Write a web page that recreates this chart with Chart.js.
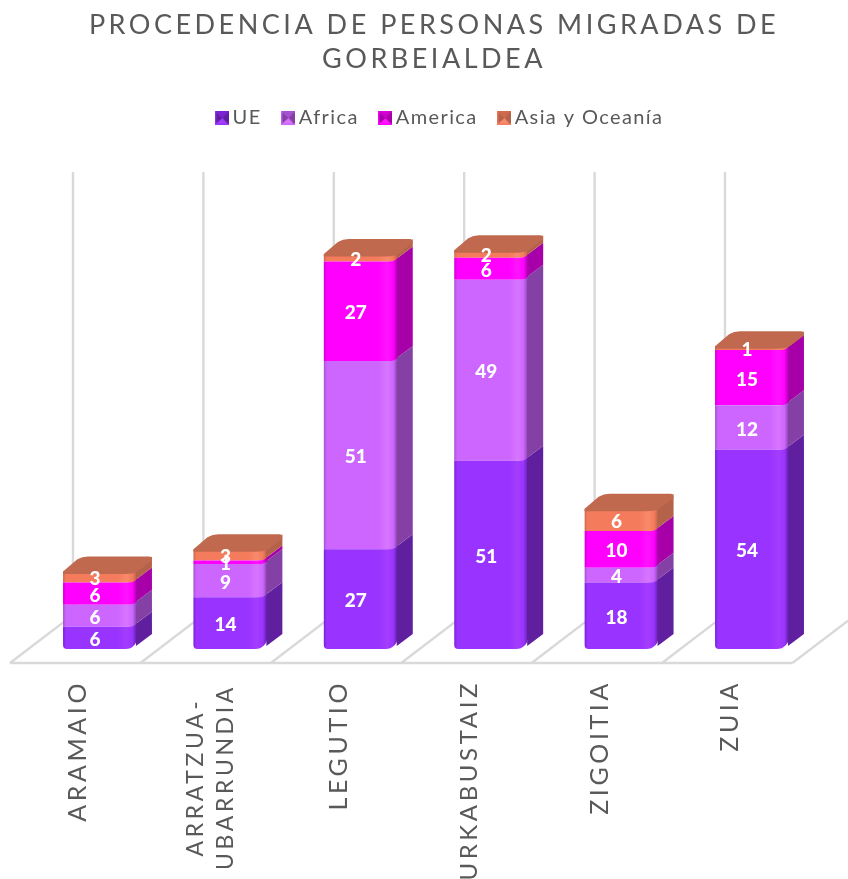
<!DOCTYPE html>
<html>
<head>
<meta charset="utf-8">
<style>html,body{margin:0;padding:0;background:#fff;overflow:hidden}canvas{display:block}</style>
<script src="https://cdn.jsdelivr.net/npm/chart.js@4/dist/chart.umd.min.js"></script>
</head>
<body>
<canvas id="c" width="848" height="879"></canvas>
<script>
const categories = [["ARAMAIO"], ["ARRATZUA-", "UBARRUNDIA"], ["LEGUTIO"], ["URKABUSTAIZ"], ["ZIGOITIA"], ["ZUIA"]];
const seriesNames = ["UE", "Africa", "America", "Asia y Oceanía"];
const ue = [6, 14, 27, 51, 18, 54];
const africa = [6, 9, 51, 49, 4, 12];
const america = [6, 1, 27, 6, 10, 15];
const asia = [3, 3, 2, 2, 6, 1];
const titleLines = ["PROCEDENCIA DE PERSONAS MIGRADAS DE", "GORBEIALDEA"];

const FONT = "Lato";
const GREY = "#595959";
const PAL = [
  {front:"#9933FF", light:"#A43DFF", dark:"#7A22D4", side:"#5F1F9F"},
  {front:"#CC66FF", light:"#D875FF", dark:"#A552CE", side:"#8540A5"},
  {front:"#FF00FF", light:"#FF14FF", dark:"#D000D0", side:"#A800A8"},
  {front:"#F47B5C", light:"#F98A6C", dark:"#CF6A4E", side:"#B5624A"}
];
const TOP_FACE = "#C0694F";
const DX = 15, DY = 14;            // bar depth
const FLOOR_DX = 63, FLOOR_FRONT = 14, FLOOR_BACK = 34; // floor geometry

function frontGradient(ctx, x, w, p) {
  const g = ctx.createLinearGradient(x - w / 2, 0, x + w / 2, 0);
  g.addColorStop(0, p.dark);
  g.addColorStop(0.04, p.front);
  g.addColorStop(0.74, p.front);
  g.addColorStop(0.86, p.light);
  g.addColorStop(0.94, p.front);
  g.addColorStop(1, p.side);
  return g;
}
function legendIcon(p) {
  const c = document.createElement("canvas");
  c.width = 14; c.height = 14;
  const k = c.getContext("2d");
  const tri = (col, a, b, m) => { k.fillStyle = col; k.beginPath(); k.moveTo(a[0], a[1]); k.lineTo(b[0], b[1]); k.lineTo(m[0], m[1]); k.closePath(); k.fill(); };
  k.fillStyle = p.front; k.fillRect(0, 0, 14, 14);
  const m = [8, 7];
  tri(p.dark, [0, 0], [14, 0], m);
  tri(p.side, [0, 0], [0, 14], m);
  tri(p.light, [0, 14], [14, 14], m);
  tri(p.side, [14, 0], [14, 14], m);
  k.fillStyle = p.dark; k.fillRect(0, 0, 14, 1.5);
  k.fillStyle = p.front; k.fillRect(0, 12.5, 14, 1.5); k.fillRect(0, 0, 1.5, 14);
  return c;
}
const icons = PAL.map(legendIcon);

function spaced(obj, name, spacing, dx) {
  const orig = obj[name];
  obj[name] = function () {
    const ctx = this.ctx;
    ctx.save();
    ctx.letterSpacing = spacing;
    if (dx) ctx.translate(dx, 0);
    const r = orig.apply(this, arguments);
    ctx.restore();
    return r;
  };
}

const bars3d = {
  id: "bars3d",
  beforeLayout(chart) {
    if (chart.$wrapped) return;
    chart.$wrapped = true;
    const lg = chart.legend;
    const fit = lg.fit;
    lg.fit = function () {
      const ctx = this.ctx;
      ctx.save(); ctx.letterSpacing = "1.4px";
      fit.apply(this, arguments);
      ctx.restore();
      this.height = 123; this.bottom = this.top + 123;
    };
    spaced(lg, "draw", "1.4px", 16);
    spaced(chart.titleBlock, "draw", "3.5px", 8);
  },
  beforeDraw(chart) {
    if (chart.$wrappedX) return;
    chart.$wrappedX = true;
    const sx = chart.scales.x;
    sx.getLabelItems().forEach(it => {
      if (Array.isArray(it.label) && it.label.length > 1) {
        it.options.translation[0] -= 13;
        it.options.translation[1] = 777;
        it.options.textAlign = "center";
      }
    });
    spaced(sx, "drawLabels", "3.6px", 0);
  },
  beforeDatasetsDraw(chart) {
    const {ctx, scales: {x, y}} = chart;
    const band = x.getPixelForTick(1) - x.getPixelForTick(0);
    const y0 = y.getPixelForValue(0), yMax = y.getPixelForValue(y.max);
    const floorFront = y0 + FLOOR_FRONT, floorBack = y0 - FLOOR_BACK, wallTop = yMax - FLOOR_BACK;
    const start = x.getPixelForTick(0) - band / 2 - 24.8;
    ctx.save();
    ctx.strokeStyle = "#D9D9D9";
    ctx.lineWidth = 2.4;
    ctx.beginPath();
    ctx.moveTo(start, floorFront);
    ctx.lineTo(start + band * categories.length, floorFront);
    for (let i = 0; i <= categories.length; i++) {
      const px = start + band * i;
      ctx.moveTo(px, floorFront);
      ctx.lineTo(px + FLOOR_DX, floorBack);
      if (i < categories.length) ctx.lineTo(px + FLOOR_DX, wallTop);
    }
    ctx.stroke();
    ctx.restore();
  },
  afterDatasetsDraw(chart) {
    const {ctx} = chart;
    const metas = chart.data.datasets.map((d, i) => chart.getDatasetMeta(i));
    ctx.save();
    categories.forEach((c, i) => {
      metas.forEach((m, s) => {
        const b = m.data[i], p = PAL[s];
        const w = b.width, xr = b.x + w / 2;
        const yb = b.base, yt = b.y;
        // side face
        ctx.fillStyle = p.side;
        ctx.beginPath();
        ctx.moveTo(xr - 1, yb - 3);
        ctx.lineTo(xr + DX, yb - DY - 1);
        ctx.lineTo(xr + DX, yt - DY - 1);
        ctx.lineTo(xr - 1, yt - 3);
        ctx.closePath();
        ctx.fill();
        // curved lower boundary of the segment above
        if (s < metas.length - 1) {
          ctx.fillStyle = frontGradient(ctx, b.x, w, p);
          ctx.beginPath();
          ctx.moveTo(xr - 12, yt + 0.5);
          ctx.quadraticCurveTo(xr - 4, yt + 0.5, xr, yt - 3);
          ctx.lineTo(xr, yt + 1);
          ctx.closePath();
          ctx.fill();
        }
      });
      // top face
      const b = metas[metas.length - 1].data[i];
      const w = b.width, xr = b.x + w / 2, xl = b.x - w / 2, yt = b.y;
      ctx.fillStyle = TOP_FACE;
      ctx.beginPath();
      ctx.moveTo(xl, yt + 2.5);
      ctx.lineTo(xl, yt);
      ctx.lineTo(xl + DX - 1, yt - DY + 2);
      ctx.quadraticCurveTo(xl + DX + 4, yt - DY - 1, xl + DX + 10, yt - DY - 1);
      ctx.lineTo(xr + DX - 3, yt - DY - 1);
      ctx.quadraticCurveTo(xr + DX, yt - DY - 1, xr + DX, yt - DY + 3);
      ctx.lineTo(xr + 2, yt - 1);
      ctx.quadraticCurveTo(xr - 3, yt + 2.5, xr - 12, yt + 2.5);
      ctx.closePath();
      ctx.fill();
    });
    // value labels
    ctx.fillStyle = "#FFFFFF";
    ctx.font = "900 19px " + FONT;
    ctx.textAlign = "center";
    ctx.textBaseline = "middle";
    metas.forEach((m, s) => {
      m.data.forEach((b, i) => {
        const v = chart.data.datasets[s].data[i];
        ctx.fillText(String(v), b.x - 5, (b.y + b.base) / 2 + 2);
      });
    });
    ctx.restore();
  }
};

const seriesValues = [ue, africa, america, asia];
const datasets = seriesNames.map((name, s) => ({
  label: name,
  data: seriesValues[s],
  stack: "a",
  borderWidth: 0,
  borderSkipped: false,
  borderRadius: s === 0 ? {bottomLeft: 4, bottomRight: 12, topLeft: 0, topRight: 0} : 0,
  backgroundColor(ctx) {
    const chart = ctx.chart;
    if (ctx.type !== "data" || !chart.scales || !chart.scales.x) return PAL[s].front;
    const x = chart.scales.x.getPixelForTick(ctx.dataIndex);
    const w = (chart.scales.x.getPixelForTick(1) - chart.scales.x.getPixelForTick(0)) * 0.567;
    return frontGradient(chart.ctx, x, w, PAL[s]);
  }
}));

new Chart(document.getElementById("c"), {
  type: "bar",
  data: {labels: categories, datasets},
  plugins: [bars3d],
  options: {
    responsive: false,
    animation: false,
    events: [],
    barPercentage: 0.567,
    categoryPercentage: 1,
    layout: {padding: {left: 34.8, right: 30.8, top: 0, bottom: 0}},
    plugins: {
      tooltip: {enabled: false},
      title: {
        display: true,
        text: titleLines,
        color: GREY,
        font: {family: FONT, size: 27, weight: "normal", lineHeight: 1.26},
        padding: {top: 8, bottom: 7}
      },
      legend: {
        display: true,
        position: "top",
        labels: {
          font: {family: FONT, size: 20},
          color: GREY,
          usePointStyle: true,
          boxWidth: 2,
          padding: 25,
          generateLabels() {
            return seriesNames.map((n, s) => ({text: n, fontColor: GREY, pointStyle: icons[s], datasetIndex: s, lineWidth: 0}));
          }
        }
      }
    },
    scales: {
      x: {
        stacked: true,
        border: {display: false},
        grid: {display: false, drawTicks: false},
        afterFit(s) { s.height = 230; },
        ticks: {
          color: GREY,
          font(c) {
            if (c.index === 1) return {family: FONT, size: 23, lineHeight: 1.3};
            if (c.index === 3) return {family: FONT, size: 24, lineHeight: 1.2};
            return {family: FONT, size: 25, lineHeight: 1.2};
          },
          minRotation: 90,
          maxRotation: 90,
          autoSkip: false,
          padding: 31,
          labelOffset: -22
        }
      },
      y: {
        stacked: true,
        display: false,
        min: 0,
        max: 120
      }
    }
  }
});
</script>
</body>
</html>
